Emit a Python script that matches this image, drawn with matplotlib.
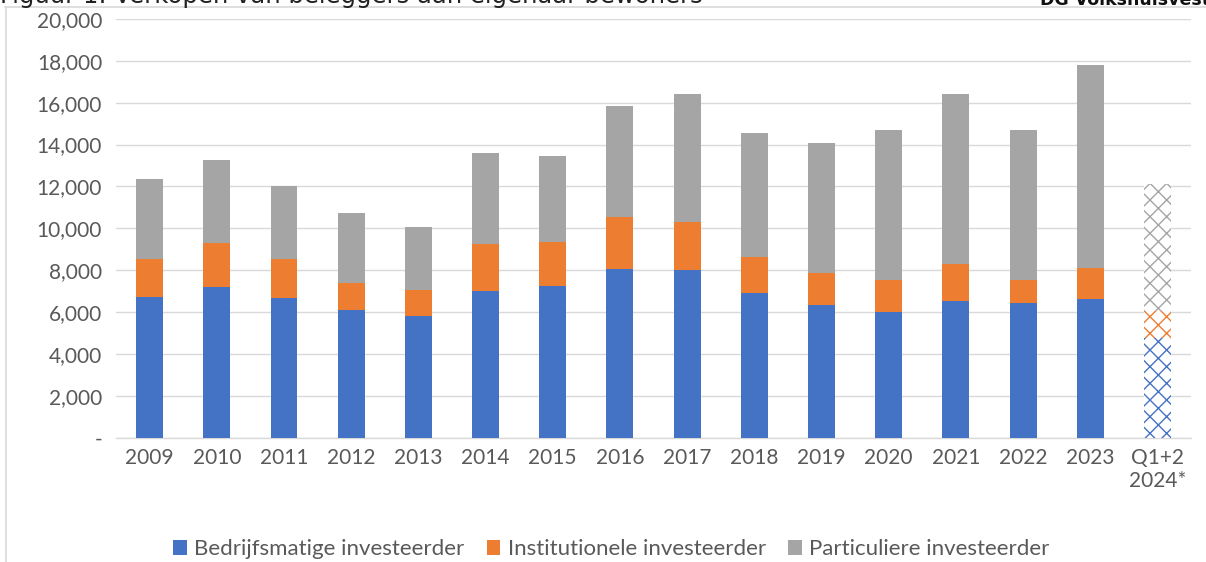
import numpy as np
import matplotlib.pyplot as plt
from matplotlib.lines import Line2D
from matplotlib.ticker import FuncFormatter

labels = ['2009', '2010', '2011', '2012', '2013', '2014', '2015', '2016',
          '2017', '2018', '2019', '2020', '2021', '2022', '2023', 'Q1+2\n2024*']
bedrijf = [6700, 7180, 6650, 6080, 5790, 7000, 7220, 8030,
           7990, 6890, 6320, 5980, 6510, 6410, 6600, 4760]
institutioneel = [1810, 2100, 1860, 1290, 1240, 2230, 2100, 2530,
                  2290, 1760, 1520, 1530, 1760, 1100, 1480, 1290]
particulier = [3820, 3960, 3530, 3380, 3010, 4390, 4150, 5300,
               6150, 5920, 6250, 7200, 8160, 7200, 9730, 6050]
series_names = ['Bedrijfsmatige investeerder', 'Institutionele investeerder',
                'Particuliere investeerder']
colors = ['#4472C4', '#ED7D31', '#A5A5A5']
txt = '#595959'
grid_c = '#D9D9D9'

plt.rcParams['font.family'] = ['Lato', 'DejaVu Sans']
plt.rcParams['hatch.linewidth'] = 1.0

fig = plt.figure(figsize=(12.06, 5.62), dpi=100)
ax = fig.add_axes([0.0962, 0.2215, 0.8914, 0.7447])

x = np.arange(len(labels))
w = 0.40
data = [np.array(bedrijf), np.array(institutioneel), np.array(particulier)]
bottom = np.zeros(len(labels))
for vals, c, name in zip(data, colors, series_names):
    ax.bar(x[:-1], vals[:-1], w, bottom=bottom[:-1], color=c, label=name, zorder=3)
    # last period is partial: hatched
    ax.bar(x[-1:], vals[-1:], w, bottom=bottom[-1:], facecolor='white',
           edgecolor=c, hatch='xx', linewidth=0, zorder=3)
    bottom += vals

ax.set_xlim(-0.5, len(labels) - 0.5)
ax.set_ylim(0, 20000)
ax.set_yticks(np.arange(0, 20001, 2000))
ax.yaxis.set_major_formatter(FuncFormatter(lambda v, p: '-' if v == 0 else f'{int(v):,}'))
ax.set_xticks(x)
ax.set_xticklabels(labels, linespacing=1.2)
ax.tick_params(axis='both', length=0, labelsize=15, colors=txt)
ax.tick_params(axis='y', pad=10)
ax.tick_params(axis='x', pad=7.5)
ax.grid(axis='y', color=grid_c, linewidth=1.0, zorder=0)
for s in ['top', 'left', 'right']:
    ax.spines[s].set_visible(False)
ax.spines['bottom'].set_color(grid_c)
ax.spines['bottom'].set_linewidth(1.0)

fig.legend(loc='center', bbox_to_anchor=(0.507, 0.023), ncol=3, frameon=False,
           fontsize=16, labelcolor=txt, handlelength=0.6, handleheight=0.7,
           handletextpad=0.35, columnspacing=1.0)

# outer chart frame (partly cut off in the source)
fig.add_artist(Line2D([5.5 / 1206, 5.5 / 1206], [0, 1 - 7 / 562],
                      transform=fig.transFigure, color=grid_c, linewidth=1.2))
fig.add_artist(Line2D([5 / 1206, 1], [1 - 7 / 562, 1 - 7 / 562],
                      transform=fig.transFigure, color=grid_c, linewidth=1.2))

fig.text(0.0, 1 - 3 / 562, 'Figuur 1: Verkopen van beleggers aan eigenaar-bewoners',
         fontsize=17.5, family='DejaVu Sans', color='#222222', ha='left', va='baseline')
fig.text(1040 / 1206, 1 - 5 / 562, 'DG Volkshuisvesting', fontsize=12.5,
         family='DejaVu Sans', weight='bold', color='#111111', ha='left', va='baseline')

fig.savefig('out.png', dpi=100)
